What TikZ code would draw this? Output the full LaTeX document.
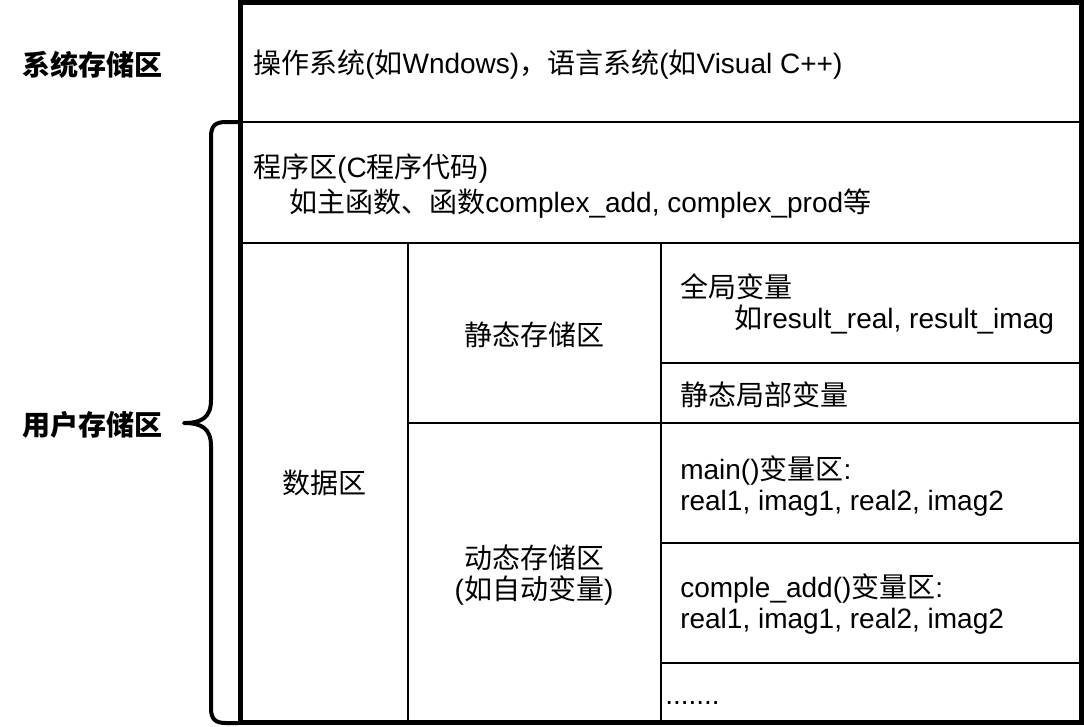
\documentclass[tikz,border=0pt]{standalone}
\usepackage{fontspec}
\setmainfont{Liberation Sans}
\newfontfamily\cjkfont{Noto Sans CJK SC}
\newcommand{\zh}[1]{{\cjkfont #1}}

\begin{document}
\begin{tikzpicture}[x=0.75pt,y=-0.75pt, font=\fontsize{21}{23.25}\selectfont,
  txt/.style={inner sep=0pt,anchor=west,align=left},
  mid/.style={inner sep=0pt,align=center},
  lbl/.style={inner sep=0pt,anchor=west,font=\fontsize{21}{23.25}\selectfont\bfseries},
  frame/.style={line width=3.75pt},
  grid/.style={line width=1.5pt},
  brace/.style={line width=3pt,line cap=round,line join=round}]
\useasboundingbox (0,0) rectangle (1084,726);
% table lines
\draw[grid] (241,122) -- (1081,122);
\draw[grid] (241,243) -- (1081,243);
\draw[grid] (408,243) -- (408,723);
\draw[grid] (661,243) -- (661,723);
\draw[grid] (408,423) -- (1081,423);
\draw[grid] (661,363) -- (1081,363);
\draw[grid] (661,543) -- (1081,543);
\draw[grid] (661,663) -- (1081,663);
\draw[frame] (240.5,2.5) rectangle (1081,722.5);
% brace
\draw[brace] (238,122) -- (226,122) .. controls (215,122) and (211,126) .. (211,137)
  -- (211,400) .. controls (211,418) and (201,423) .. (184,423)
  .. controls (201,423) and (211,428) .. (211,446)
  -- (211,708) .. controls (211,719) and (215,723) .. (226,723) -- (238,723);
% texts
\node[lbl] (sys) at (22,65) {\zh{系统存储区}};
\node[lbl] (user) at (22,425) {\zh{用户存储区}};
\node[txt] (os) at (253,65) {\zh{操作系统}(\zh{如}Wndows)\zh{，语言系统}(\zh{如}Visual C++)};
\node[txt] (prog) at (253,186) {\zh{程序区}(C\zh{程序代码})\\[3pt]
  \hspace*{27pt}\zh{如主函数、函数}complex\_add, complex\_prod\zh{等}};
\node[mid] (data) at (324,483) {\zh{数据区}};
\node[mid] (static) at (534,335) {\zh{静态存储区}};
\node[mid] (dyn) at (534,575) {\zh{动态存储区}\\(\zh{如自动变量})};
\node[txt] (glob) at (680,304) {\zh{全局变量}\\\hspace*{41pt}\zh{如}result\_real, result\_imag};
\node[txt] (sloc) at (680,395) {\zh{静态局部变量}};
\node[txt] (mainv) at (680,486) {main()\zh{变量区}:\\real1, imag1, real2, imag2};
\node[txt] (addv) at (680,604) {comple\_add()\zh{变量区}:\\real1, imag1, real2, imag2};
\node[inner sep=0pt,anchor=base west] (more) at (665,704) {.......};
\end{tikzpicture}
\end{document}
